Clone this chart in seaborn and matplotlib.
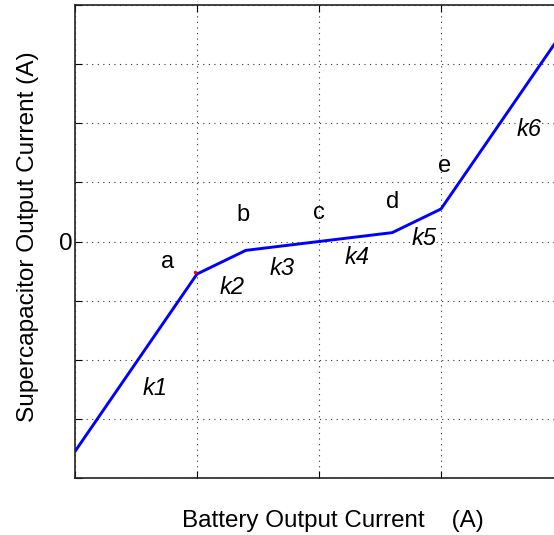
import matplotlib
matplotlib.use("Agg")
import matplotlib.pyplot as plt
import seaborn as sns
import pandas as pd

# Piecewise-linear control curve: breakpoints a..e between segments k1..k6
battery_current = [0.0, 1.0, 1.4, 2.0, 2.6, 3.0, 4.0]
supercap_current = [-3.55, -0.55, -0.15, 0.0, 0.15, 0.55, 3.55]

point_names = ["a", "b", "c", "d", "e"]
point_label_x = [0.76, 1.38, 2.0, 2.6, 3.03]
point_label_y = [-0.35, 0.45, 0.48, 0.67, 1.27]

segment_names = ["k1", "k2", "k3", "k4", "k5", "k6"]
segment_label_x = [0.66, 1.29, 1.70, 2.31, 2.86, 3.72]
segment_label_y = [-2.48, -0.77, -0.45, -0.27, 0.05, 1.90]

sns.set_style("ticks")
plt.rcParams["font.family"] = ["Liberation Sans", "DejaVu Sans"]
plt.rcParams["text.color"] = "black"
plt.rcParams["axes.labelcolor"] = "black"

fig = plt.figure(figsize=(5.54, 5.35), dpi=100)
ax = fig.add_axes([75 / 554, 1 - 478 / 535, (563 - 75) / 554, (478 - 5) / 535])

df = pd.DataFrame({"x": battery_current, "y": supercap_current})
sns.lineplot(data=df, x="x", y="y", ax=ax, color="#0000ff", linewidth=2.1,
             sort=False, estimator=None)
ax.plot([0.98], [-0.52], marker="o", markersize=1.5, color="red", linestyle="none")

for name, x, y in zip(point_names, point_label_x, point_label_y):
    ax.text(x, y, name, fontsize=17, ha="center", va="center", color="black")
for name, x, y in zip(segment_names, segment_label_x, segment_label_y):
    ax.text(x, y, name, fontsize=17, ha="center", va="center", style="italic",
            color="black")

ax.set_xlim(0, 4)
ax.set_ylim(-4, 4)
ax.set_xticks([0, 1, 2, 3, 4])
ax.set_yticks([-4, -3, -2, -1, 0, 1, 2, 3, 4])
ax.set_xticklabels([])
ax.set_yticklabels(["", "", "", "", "0", "", "", "", ""])
ax.tick_params(direction="in", length=5, width=0.8, top=True, right=True,
               labelsize=17.5, colors="black", pad=2)
ax.grid(True, color="#333333", linestyle=(0, (1, 4)), linewidth=0.8)
for spine in ax.spines.values():
    spine.set_color("#222222")
    spine.set_linewidth(1.2)

ax.set_xlabel("Battery Output Current    (A)", fontsize=17.4)
ax.xaxis.set_label_coords(0.529, -0.068)
ax.set_ylabel("Supercapacitor Output Current (A)", fontsize=17.6)
ax.yaxis.set_label_coords(-0.074, 0.511)

fig.savefig("out.png", dpi=100)
